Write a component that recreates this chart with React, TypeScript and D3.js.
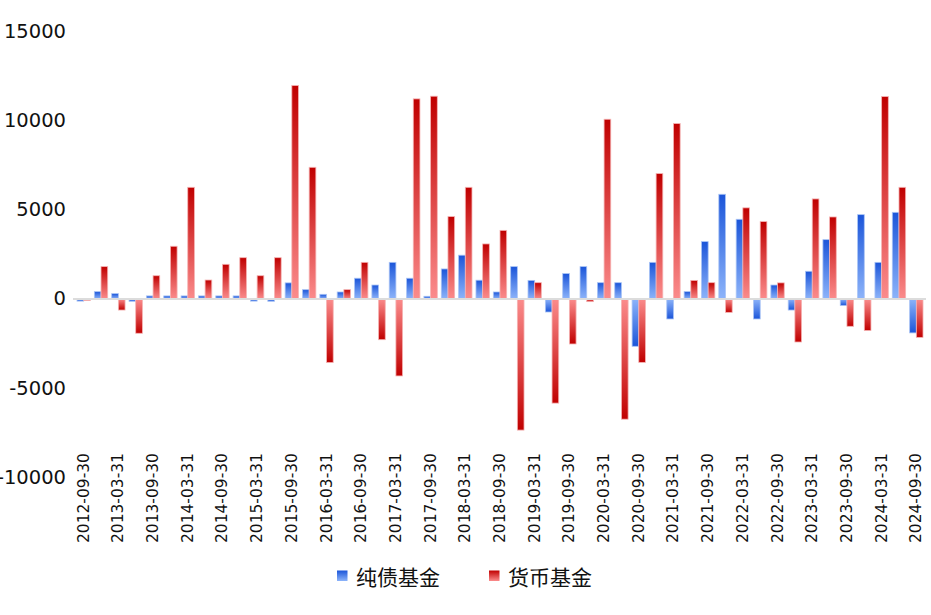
import React from "react";
import * as d3 from "d3";

const categories: string[] = [
  "2012-09-30", "2012-12-31", "2013-03-31", "2013-06-30", "2013-09-30", "2013-12-31",
  "2014-03-31", "2014-06-30", "2014-09-30", "2014-12-31", "2015-03-31", "2015-06-30",
  "2015-09-30", "2015-12-31", "2016-03-31", "2016-06-30", "2016-09-30", "2016-12-31",
  "2017-03-31", "2017-06-30", "2017-09-30", "2017-12-31", "2018-03-31", "2018-06-30",
  "2018-09-30", "2018-12-31", "2019-03-31", "2019-06-30", "2019-09-30", "2019-12-31",
  "2020-03-31", "2020-06-30", "2020-09-30", "2020-12-31", "2021-03-31", "2021-06-30",
  "2021-09-30", "2021-12-31", "2022-03-31", "2022-06-30", "2022-09-30", "2022-12-31",
  "2023-03-31", "2023-06-30", "2023-09-30", "2023-12-31", "2024-03-31", "2024-06-30",
  "2024-09-30",
];

const bondFund: number[] = [
  -120, 410, 300, -130, 170, 170, 170, 170, 170, 170, -120, -130,
  900, 520, 260, 390, 1160, 780, 2050, 1160, 150, 1680, 2450, 1050,
  390, 1810, 1040, -730, 1420, 1810, 910, 910, -2650, 2050, -1120, 410,
  3210, 5860, 4460, -1120, 780, -620, 1550, 3320, -370, 4720, 2050, 4850,
  -1900,
];

const moneyFund: number[] = [
  -80, 1810, -620, -1920, 1300, 2950, 6250, 1060, 1940, 2310, 1300, 2310,
  11950, 7370, -3560, 520, 2050, -2280, -4310, 11200, 11350, 4610, 6250, 3080,
  3840, -7340, 910, -5830, -2520, -150, 10060, -6730, -3550, 7020, 9820, 1040,
  910, -750, 5100, 4330, 900, -2410, 5600, 4590, -1530, -1770, 11330, 6250,
  -2150,
];

const seriesNames: string[] = ["纯债基金", "货币基金"];
const yTicks: number[] = [-10000, -5000, 0, 5000, 10000, 15000];

const W = 931;
const H = 615;

export default function App() {
  const x = d3
    .scaleBand<string>()
    .domain(categories)
    .range([75, 925])
    .paddingInner(0.23)
    .paddingOuter(0.115);
  const inner = d3
    .scaleBand<number>()
    .domain([0, 1])
    .range([0, x.bandwidth()]);
  const y = d3.scaleLinear().domain([-10000, 15000]).range([477.6, 31]);
  const y0 = y(0);

  const series = [bondFund, moneyFund];
  const prefix = ["b", "r"];
  const strokes = ["#a9c4f5", "#f5b3b3"];

  const bars: React.ReactNode[] = [];
  series.forEach((vals, si) => {
    vals.forEach((v, i) => {
      const bx = (x(categories[i]) as number) + (inner(si) as number);
      const top = v >= 0 ? y(v) : y0;
      const h = Math.max(Math.abs(y(v) - y0), 0.8);
      bars.push(
        <rect
          key={`${si}-${i}`}
          x={bx}
          y={top}
          width={inner.bandwidth()}
          height={h}
          fill={`url(#${prefix[si]}${v >= 0 ? "Up" : "Down"})`}
          stroke={strokes[si]}
          strokeWidth={0.8}
        />
      );
    });
  });

  const font = "'DejaVu Sans', 'Noto Sans', sans-serif";
  const cjk = "'Noto Sans CJK SC', 'Noto Sans', sans-serif";

  return (
    <svg
      width={W}
      height={H}
      style={{ position: "absolute", left: 0, top: 0, background: "#fff" }}
    >
      <defs>
        <linearGradient id="bUp" x1="0" y1="0" x2="0" y2="1">
          <stop offset="0" stopColor="#1b55d9" />
          <stop offset="1" stopColor="#8db4fa" />
        </linearGradient>
        <linearGradient id="bDown" x1="0" y1="0" x2="0" y2="1">
          <stop offset="0" stopColor="#8db4fa" />
          <stop offset="1" stopColor="#1b55d9" />
        </linearGradient>
        <linearGradient id="rUp" x1="0" y1="0" x2="0" y2="1">
          <stop offset="0" stopColor="#c00000" />
          <stop offset="1" stopColor="#fb8c8c" />
        </linearGradient>
        <linearGradient id="rDown" x1="0" y1="0" x2="0" y2="1">
          <stop offset="0" stopColor="#fb8c8c" />
          <stop offset="1" stopColor="#c00000" />
        </linearGradient>
      </defs>

      {yTicks.map((t) => (
        <text
          key={t}
          x={66}
          y={y(t)}
          textAnchor="end"
          dominantBaseline="central"
          fontFamily={font}
          fontSize={19.5}
          fill="#111"
        >
          {t}
        </text>
      ))}

      {bars}

      <line
        x1={73}
        x2={926}
        y1={y0}
        y2={y0}
        stroke="#dcdcdc"
        strokeWidth={2}
      />

      {categories.map((c, i) =>
        i % 2 === 0 ? (
          <text
            key={c}
            transform={`translate(${(x(c) as number) + x.bandwidth() / 2},453) rotate(-90)`}
            textAnchor="end"
            dominantBaseline="central"
            fontFamily={font}
            fontSize={15.5}
            fill="#111"
          >
            {c}
          </text>
        ) : null
      )}

      {seriesNames.map((name, si) => {
        const lx = si === 0 ? 337 : 489;
        return (
          <g key={name}>
            <rect
              x={lx}
              y={570.5}
              width={10.5}
              height={10.5}
              fill={`url(#${prefix[si]}Up)`}
            />
            <text
              x={lx + 19}
              y={575.5}
              dominantBaseline="central"
              fontFamily={cjk}
              fontSize={21}
              fill="#111"
            >
              {name}
            </text>
          </g>
        );
      })}
    </svg>
  );
}
